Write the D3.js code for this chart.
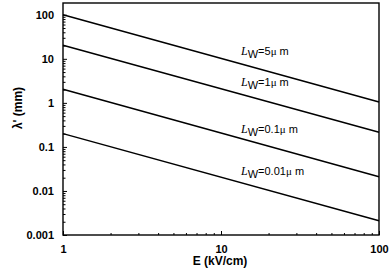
<!DOCTYPE html>
<html>
<head>
<meta charset="utf-8">
<script src="https://cdn.jsdelivr.net/npm/d3@7"></script>
<style>
  body { margin: 0; background: #fff; }
  svg { display: block; font-family: Arial, "Liberation Sans", Helvetica, sans-serif; }
  .axis path { display: none; }
  .axis line { stroke: #000; stroke-width: 1; }
  .axis text { font-size: 11px; fill: #000; font-weight: bold; }
</style>
</head>
<body>
<svg id="chart"></svg>
<script>
// data
const fieldE = [1, 100];
const lw5 = [100, 1.05];
const lw1 = [20.3, 0.215];
const lw01 = [2.04, 0.021];
const lw001 = [0.2, 0.0021];
const seriesNames = ['5', '1', '0.1', '0.01'];
const xMajor = [1, 10, 100];
const yMajor = [0.001, 0.01, 0.1, 1, 10, 100];
const xLabel = 'E (kV/cm)';
const yLabel = "\u03bb' (mm)";

const W = 390, H = 278;
const margin = { left: 63, top: 3, right: 11, bottom: 43 };
const width = W - margin.left - margin.right;
const height = H - margin.top - margin.bottom;

const svg = d3.select('#chart').attr('width', W).attr('height', H);
const g = svg.append('g').attr('transform', `translate(${margin.left},${margin.top})`);

const x = d3.scaleLog().domain([1, 100]).range([0, width]);
const y = d3.scaleLog().domain([0.001, 185]).range([height, 0]);

// minor ticks for log axes
const minor = (lo, hi) => {
  const out = [];
  for (let p = Math.floor(Math.log10(lo)); p < Math.ceil(Math.log10(hi)); p++) {
    for (let k = 2; k <= 9; k++) {
      const v = k * Math.pow(10, p);
      if (v > lo && v < hi) out.push(v);
    }
  }
  return out;
};

// x axis, ticks inside
g.append('g').attr('class', 'axis')
  .attr('transform', `translate(0,${height})`)
  .call(d3.axisBottom(x).tickValues(xMajor).tickSize(-4).tickPadding(10).tickFormat(d3.format('')));
g.append('g').attr('class', 'axis')
  .attr('transform', `translate(0,${height})`)
  .call(d3.axisBottom(x).tickValues(minor(1, 100)).tickSize(-2).tickFormat(''));

// y axis, ticks inside
g.append('g').attr('class', 'axis')
  .call(d3.axisLeft(y).tickValues(yMajor).tickSize(-4).tickPadding(9).tickFormat(d => String(d)));
g.append('g').attr('class', 'axis')
  .call(d3.axisLeft(y).tickValues(minor(0.001, 185)).tickSize(-2.5).tickFormat(''));

// frame
g.append('rect')
  .attr('width', width).attr('height', height)
  .attr('fill', 'none').attr('stroke', '#000').attr('stroke-width', 1.4);

// curves
const series = [lw5, lw1, lw01, lw001];
const line = d3.line().x((d, i) => x(fieldE[i])).y(d => y(d));
g.selectAll('.curve')
  .data(series)
  .enter().append('path')
    .attr('class', 'curve')
    .attr('d', d => line(d))
    .attr('fill', 'none')
    .attr('stroke', '#000')
    .attr('stroke-width', 1.5);

// curve labels
const labelY = [55, 86, 133, 175];
const lab = svg.selectAll('.lw')
  .data(seriesNames)
  .enter().append('text')
    .attr('class', 'lw')
    .attr('x', 241)
    .attr('y', (d, i) => labelY[i])
    .style('font-size', '11px');
lab.append('tspan')
  .style('font-family', '"Liberation Serif", "Times New Roman", serif')
  .style('font-style', 'italic')
  .style('font-size', '12px')
  .text('L');
lab.append('tspan')
  .attr('dy', 3)
  .style('font-size', '11px')
  .text('W');
lab.append('tspan')
  .attr('dy', -3)
  .style('font-size', '11px')
  .text(d => `=${d}`);
lab.append('tspan')
  .style('font-family', '"Liberation Serif", "Times New Roman", serif')
  .style('font-size', '11px')
  .text('\u03bc');
lab.append('tspan')
  .style('font-size', '11px')
  .text(' m');

// axis titles
svg.append('text')
  .attr('x', 220).attr('y', 265)
  .attr('text-anchor', 'middle')
  .style('font-size', '12px').style('font-weight', 'bold')
  .text(xLabel);

svg.append('text')
  .attr('transform', 'translate(22,108) rotate(-90)')
  .attr('text-anchor', 'middle')
  .style('font-size', '12px').style('font-weight', 'bold')
  .text(yLabel);
</script>
</body>
</html>
